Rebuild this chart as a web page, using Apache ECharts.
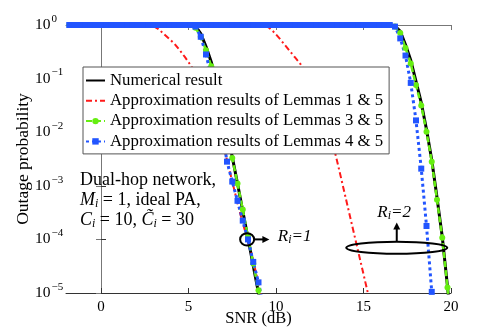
<!DOCTYPE html>
<html>
<head>
<meta charset="utf-8">
<script src="https://cdn.jsdelivr.net/npm/echarts@6/dist/echarts.min.js"></script>
<style>
  html, body { margin: 0; padding: 0; background: #fff; }
  #chart { width: 498px; height: 330px; }
</style>
</head>
<body>
<div id="chart"></div>
<script>
// SNR grid (dB), one point every 0.3 dB
const snrR1 = [-1.8, -1.5, -1.2, -0.9, -0.6, -0.3, 0, 0.3, 0.6, 0.9, 1.2, 1.5, 1.8, 2.1, 2.4, 2.7, 3, 3.3, 3.6, 3.9,
  4.2, 4.5, 4.8, 5.1, 5.4, 5.7, 6, 6.3, 6.6, 6.9, 7.2, 7.5, 7.8, 8.1, 8.4, 8.7, 9, 9.3];
const snrR2 = [-1.8, -1.5, -1.2, -0.9, -0.6, -0.3, 0, 0.3, 0.6, 0.9, 1.2, 1.5, 1.8, 2.1, 2.4, 2.7, 3, 3.3, 3.6, 3.9,
  4.2, 4.5, 4.8, 5.1, 5.4, 5.7, 6, 6.3, 6.6, 6.9, 7.2, 7.5, 7.8, 8.1, 8.4, 8.7, 9, 9.3, 9.6, 9.9,
  10.2, 10.5, 10.8, 11.1, 11.4, 11.7, 12, 12.3, 12.6, 12.9, 13.2, 13.5, 13.8, 14.1, 14.4, 14.7, 15, 15.3, 15.6, 15.9,
  16.2, 16.5, 16.8, 17.1, 17.4, 17.7, 18, 18.3, 18.6, 18.9, 19.2, 19.5, 19.8, 20.1];

// outage probability, R_i = 1
const numR1 = [1, 1, 1, 1, 1, 1, 1, 1, 1, 1, 1, 1, 1, 1, 1, 1, 1, 1, 1, 1, 1, 1, 1, 1,
  0.955, 0.692, 0.398, 0.204, 0.0891, 0.0339, 0.011, 3.47e-3, 1.1e-3, 3.39e-4, 1.05e-4, 3.24e-5, 1e-5, 3.2e-6];
const lem15R1 = [1, 1, 1, 1, 1, 1, 1, 1, 1, 1, 1, 1, 1, 1, 1, 1,
  0.955, 0.832, 0.676, 0.55, 0.447, 0.339, 0.251, 0.182, 0.126, 0.0832, 0.0501, 0.0282, 0.0148, 7.08e-3, 3.02e-3,
  1.2e-3, 4.79e-4, 2e-4, 9.5e-5, 4e-5, 1.5e-5, 5e-6];
const lem35R1 = [1, 1, 1, 1, 1, 1, 1, 1, 1, 1, 1, 1, 1, 1, 1, 1, 1, 1, 1, 1, 1, 1, 1, 1,
  0.891, 0.603, 0.339, 0.17, 0.0759, 0.0282, 0.01, 3.31e-3, 1.1e-3, 3.63e-4, 1.12e-4, 3.55e-5, 1.12e-5, 3.5e-6];
const lem45R1 = [1, 1, 1, 1, 1, 1, 1, 1, 1, 1, 1, 1, 1, 1, 1, 1, 1, 1, 1, 1, 1, 1, 1, 1,
  0.933, 0.603, 0.282, 0.112, 0.038, 0.0112, 2.82e-3, 1.2e-3, 5.25e-4, 2.24e-4, 1e-4, 3.8e-5, 1.58e-5, 5e-6];

// outage probability, R_i = 2
const numR2 = [1, 1, 1, 1, 1, 1, 1, 1, 1, 1, 1, 1, 1, 1, 1, 1, 1, 1, 1, 1,
  1, 1, 1, 1, 1, 1, 1, 1, 1, 1, 1, 1, 1, 1, 1, 1, 1, 1, 1, 1,
  1, 1, 1, 1, 1, 1, 1, 1, 1, 1, 1, 1, 1, 1, 1, 1, 1, 1, 1, 1, 1, 1,
  0.955, 0.759, 0.427, 0.219, 0.0891, 0.0355, 0.0112, 3.02e-3, 6.03e-4, 1.12e-4, 1.32e-5, 1.26e-6];
const lem15R2 = [1, 1, 1, 1, 1, 1, 1, 1, 1, 1, 1, 1, 1, 1, 1, 1, 1, 1, 1, 1,
  1, 1, 1, 1, 1, 1, 1, 1, 1, 1, 1, 1, 1, 1, 1, 1, 1,
  0.977, 0.891, 0.724, 0.562, 0.427, 0.324, 0.245, 0.186, 0.132, 0.0891, 0.0562, 0.0316, 0.0158, 7.08e-3,
  2.82e-3, 1.07e-3, 4.07e-4, 1.55e-4, 5.89e-5, 2.24e-5, 8.5e-6, 3.2e-6];
const lem35R2 = [1, 1, 1, 1, 1, 1, 1, 1, 1, 1, 1, 1, 1, 1, 1, 1, 1, 1, 1, 1,
  1, 1, 1, 1, 1, 1, 1, 1, 1, 1, 1, 1, 1, 1, 1, 1, 1, 1, 1, 1,
  1, 1, 1, 1, 1, 1, 1, 1, 1, 1, 1, 1, 1, 1, 1, 1, 1, 1, 1, 1, 1, 1,
  0.933, 0.708, 0.372, 0.191, 0.0759, 0.0316, 0.0102, 2.82e-3, 5.5e-4, 1.07e-4, 1.26e-5, 1.26e-6];
const lem45R2 = [1, 1, 1, 1, 1, 1, 1, 1, 1, 1, 1, 1, 1, 1, 1, 1, 1, 1, 1, 1,
  1, 1, 1, 1, 1, 1, 1, 1, 1, 1, 1, 1, 1, 1, 1, 1, 1, 1, 1, 1,
  1, 1, 1, 1, 1, 1, 1, 1, 1, 1, 1, 1, 1, 1, 1, 1, 1, 1, 1, 1, 1, 1,
  0.933, 0.562, 0.269, 0.0832, 0.0166, 2.09e-3, 1.78e-4, 1.05e-5, 5e-7];

const names = ['Numerical result', 'Approximation results of Lemmas 1 & 5',
  'Approximation results of Lemmas 3 & 5', 'Approximation results of Lemmas 4 & 5'];
const xTicks = [0, 5, 10, 15, 20];

const serif = 'Liberation Serif';
const styles = [
  { color: '#000', lineStyle: { width: 3, type: 'solid' }, symbol: 'none' },
  { color: '#ff1a1a', lineStyle: { width: 2, type: [6, 3, 2, 3] }, symbol: 'none' },
  { color: '#66ee11', lineStyle: { width: 2.5, type: [6, 3] }, symbol: 'circle', symbolSize: 6 },
  { color: '#2255ff', lineStyle: { width: 3, type: [3, 3] }, symbol: 'rect', symbolSize: 6 }
];

function makeSeries(k, snr, vals) {
  return Object.assign({
    name: names[k],
    type: 'line',
    data: vals.map((p, i) => [snr[i], p]),
    showAllSymbol: true,
    clip: true
  }, styles[k]);
}

const chart = echarts.init(document.getElementById('chart'));

chart.setOption({
  animation: false,
  grid: { left: 66, right: 47, top: 25, bottom: 37, containLabel: false, outerBoundsMode: 'none' },
  legend: {
    orient: 'vertical', left: 83, top: 67,
    padding: [5, 6, 4, 2], itemGap: 3.3, itemWidth: 19, itemHeight: 8,
    backgroundColor: '#fff', borderColor: '#555', borderWidth: 1, borderRadius: 0,
    selectedMode: false,
    textStyle: { fontFamily: serif, fontSize: 16.8, color: '#000', lineHeight: 14 },
    data: [
      { name: names[0], itemStyle: { opacity: 0 } },
      { name: names[1], itemStyle: { opacity: 0 } },
      { name: names[2] },
      { name: names[3] }
    ]
  },
  xAxis: [{
    type: 'value', min: -2, max: 20,
    name: 'SNR (dB)', nameLocation: 'middle', nameGap: 17, nameMoveOverlap: false,
    nameTextStyle: { fontFamily: serif, fontSize: 16.5, color: '#000' },
    axisLine: { onZero: false, lineStyle: { color: '#333' } },
    axisTick: { inside: true, length: 5, customValues: xTicks, lineStyle: { color: '#333' } },
    axisLabel: { customValues: xTicks, margin: 7, fontFamily: serif, fontSize: 15, color: '#000' },
    splitLine: { show: false }
  }, {
    type: 'value', min: -2, max: 20, position: 'top',
    axisLine: { onZero: false, lineStyle: { color: '#777' } },
    axisTick: { inside: true, length: 5, customValues: xTicks, lineStyle: { color: '#777' } },
    axisLabel: { show: false },
    splitLine: { show: false }
  }],
  yAxis: [{
    type: 'log', logBase: 10, min: 1e-5, max: 1, splitNumber: 5,
    name: 'Outage probability', nameLocation: 'middle', nameGap: 34, nameMoveOverlap: false,
    nameTextStyle: { fontFamily: serif, fontSize: 17.5, color: '#000' },
    axisLine: { show: true, lineStyle: { color: '#333' } },
    axisTick: { inside: true, length: 5, lineStyle: { color: '#333' } },
    axisLabel: {
      margin: 31, align: 'left',
      formatter: function (v) {
        const e = Math.round(Math.log10(v));
        return '{b|10}{s|' + (e < 0 ? '\u2212' + (-e) : e) + '}';
      },
      rich: {
        b: { fontFamily: serif, fontSize: 15.5, lineHeight: 16, color: '#000', verticalAlign: 'middle' },
        s: { fontFamily: serif, fontSize: 11, lineHeight: 11, color: '#000', verticalAlign: 'middle', padding: [0, 0, 12, 1] }
      }
    },
    splitLine: { show: false }
  }, {
    type: 'log', logBase: 10, min: 1e-5, max: 1, splitNumber: 5, position: 'right',
    axisLine: { show: true, lineStyle: { color: '#777' } },
    axisTick: { inside: true, length: 5, lineStyle: { color: '#777' } },
    axisLabel: { show: false },
    splitLine: { show: false }
  }],
  series: [
    makeSeries(0, snrR1, numR1), makeSeries(0, snrR2, numR2),
    makeSeries(1, snrR1, lem15R1), makeSeries(1, snrR2, lem15R2),
    makeSeries(2, snrR1, lem35R1), makeSeries(2, snrR2, lem35R2),
    makeSeries(3, snrR1, lem45R1), makeSeries(3, snrR2, lem45R2)
  ]
});

// annotations, anchored in data coordinates
const px = pt => chart.convertToPixel({ seriesIndex: 0 }, pt);
const c1 = px([8.35, 1e-4]);
const tip1 = px([9.62, 1e-4]);
const lab1 = px([10.1, 1.15e-4]);
const c2 = px([16.9, 7.0e-5]);
const tip2 = px([16.9, 2.06e-4]);
const lab2 = px([16.75, 3.2e-4]);

const riRich = {
  r: { fontFamily: serif, fontSize: 17, fontStyle: 'italic', fill: '#000', lineHeight: 20, verticalAlign: 'middle' },
  i: { fontFamily: serif, fontSize: 12, fontStyle: 'italic', fill: '#000', lineHeight: 12, padding: [8, 0, 0, 0], verticalAlign: 'middle' }
};
const black = { stroke: '#000', lineWidth: 2, fill: null };

chart.setOption({
  graphic: [
    {
      type: 'text', left: 80, top: 170, z: 10,
      style: {
        text: 'Dual-hop network,\n{m|M}{s|i} = 1, ideal PA,\n{m|C}{s|i} = 10, {m|C\u0303}{s|i} = 30',
        fontFamily: serif, fontSize: 18, fill: '#000', lineHeight: 20,
        rich: {
          m: { fontFamily: serif, fontSize: 18, fontStyle: 'italic', fill: '#000', lineHeight: 20, verticalAlign: 'middle' },
          s: { fontFamily: serif, fontSize: 12, fontStyle: 'italic', fill: '#000', lineHeight: 12, padding: [8, 0, 0, 0], verticalAlign: 'middle' }
        }
      }
    },
    { type: 'ellipse', z: 10, shape: { cx: c1[0], cy: c1[1], rx: 7, ry: 6.2 }, style: black },
    { type: 'line', z: 10, shape: { x1: c1[0] + 7, y1: c1[1], x2: tip1[0] - 5, y2: c1[1] }, style: black },
    { type: 'polygon', z: 10, shape: { points: [[tip1[0], c1[1]], [tip1[0] - 7, c1[1] - 3.5], [tip1[0] - 7, c1[1] + 3.5]] }, style: { fill: '#000' } },
    {
      type: 'text', z: 10, x: lab1[0], y: lab1[1],
      style: { text: '{r|R}{i|i}{r|=1}', verticalAlign: 'middle', rich: riRich }
    },
    { type: 'ellipse', z: 10, shape: { cx: c2[0], cy: c2[1], rx: 50.5, ry: 6 }, style: black },
    { type: 'line', z: 10, shape: { x1: c2[0], y1: c2[1] - 6, x2: c2[0], y2: tip2[1] + 5 }, style: black },
    { type: 'polygon', z: 10, shape: { points: [[c2[0], tip2[1]], [c2[0] - 3.5, tip2[1] + 7], [c2[0] + 3.5, tip2[1] + 7]] }, style: { fill: '#000' } },
    {
      type: 'text', z: 10, x: lab2[0], y: lab2[1],
      style: { text: '{r|R}{i|i}{r|=2}', align: 'center', verticalAlign: 'middle', rich: riRich }
    }
  ]
});
</script>
</body>
</html>
